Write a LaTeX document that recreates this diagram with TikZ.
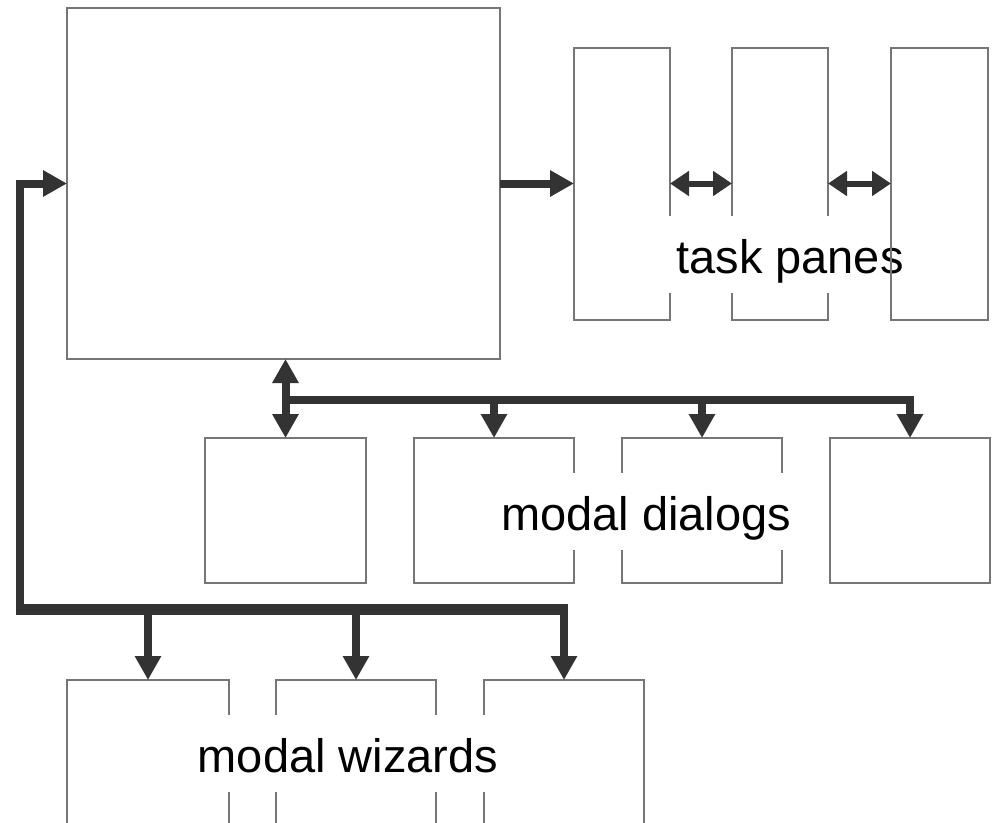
\documentclass[tikz,border=0pt]{standalone}
\usepackage{fontspec}
\setmainfont{Liberation Sans}
\usetikzlibrary{arrows.meta}
\definecolor{boxgray}{HTML}{767676}
\definecolor{arrowdark}{HTML}{333333}
\begin{document}
\begin{tikzpicture}[x=1pt,y=-1pt,
  panel/.style={draw=boxgray,line width=2pt,inner sep=0pt,outer sep=0pt},
  conn/.style={draw=arrowdark,line width=8pt},
  bigtip/.style={-{Triangle[length=24pt,width=25pt]}},
  bothtip/.style={{Triangle[length=24pt,width=25pt]}-{Triangle[length=24pt,width=25pt]}},
  smalltips/.style={{Triangle[length=19pt,width=24pt]}-{Triangle[length=19pt,width=24pt]}},
  tagtext/.style={fill=white,inner xsep=8pt,inner ysep=0pt,text height=57pt,text depth=20pt,anchor=base,font=\fontsize{47}{52}\selectfont}]
\useasboundingbox (0,0) rectangle (996,822);
\clip (0,0) rectangle (996,822);
\fill[white] (0,0) rectangle (996,822);
% main window
\node[panel,minimum width=433pt,minimum height=351pt] (main) at (283.5,183.5) {};
% task panes
\node[panel,minimum width=96pt,minimum height=272pt] (p1) at (622,183.5) {};
\node[panel,minimum width=96pt,minimum height=272pt] (p2) at (780,183.5) {};
% modal dialogs
\node[panel,minimum width=161pt,minimum height=145pt] (d1) at (285.5,510.5) {};
\node[panel,minimum width=160pt,minimum height=145pt] (d2) at (494,510.5) {};
\node[panel,minimum width=160pt,minimum height=145pt] (d3) at (702,510.5) {};
\node[panel,minimum width=160pt,minimum height=145pt] (d4) at (910,510.5) {};
% modal wizards (cut by the lower edge)
\node[panel,minimum width=162pt,minimum height=200pt] (w1) at (148,780) {};
\node[panel,minimum width=160pt,minimum height=200pt] (w2) at (356,780) {};
\node[panel,minimum width=160pt,minimum height=200pt] (w3) at (564,780) {};
% connectors
\coordinate (bl) at (20,609);
\coordinate (mh) at (285,400);
\draw[conn,bigtip] (main.east) -- (p1.west);
\draw[conn,line width=6pt,smalltips] (p1.east) -- (p2.west);
\draw[conn,bigtip] ([yshift=-4pt]bl) |- (main.west);
\draw[conn,line width=11pt] ([xshift=-4pt]bl) -- ([xshift=4pt]w3.north |- bl);
\draw[conn,bigtip] (w1.north |- bl) -- (w1.north);
\draw[conn,bigtip] (w2.north |- bl) -- (w2.north);
\draw[conn,bigtip] (w3.north |- bl) -- (w3.north);
\draw[conn,bothtip] (d1.north |- main.south) -- (d1.north);
\draw[conn,bigtip] (mh) -| (d4.north);
\draw[conn,bigtip] (d2.north |- mh) -- (d2.north);
\draw[conn,bigtip] (d3.north |- mh) -- (d3.north);
% labels
\node[tagtext] (tp) at (790,273) {task panes};
\node[tagtext] (md) at (646,530) {modal dialogs};
\node[tagtext] (mw) at (348,772) {modal wizards};
% third task pane drawn over the label
\node[panel,minimum width=97pt,minimum height=272pt] (p3) at (939.5,183.5) {};
\draw[conn,line width=6pt,smalltips] (p2.east) -- (p3.west);
\end{tikzpicture}
\end{document}
